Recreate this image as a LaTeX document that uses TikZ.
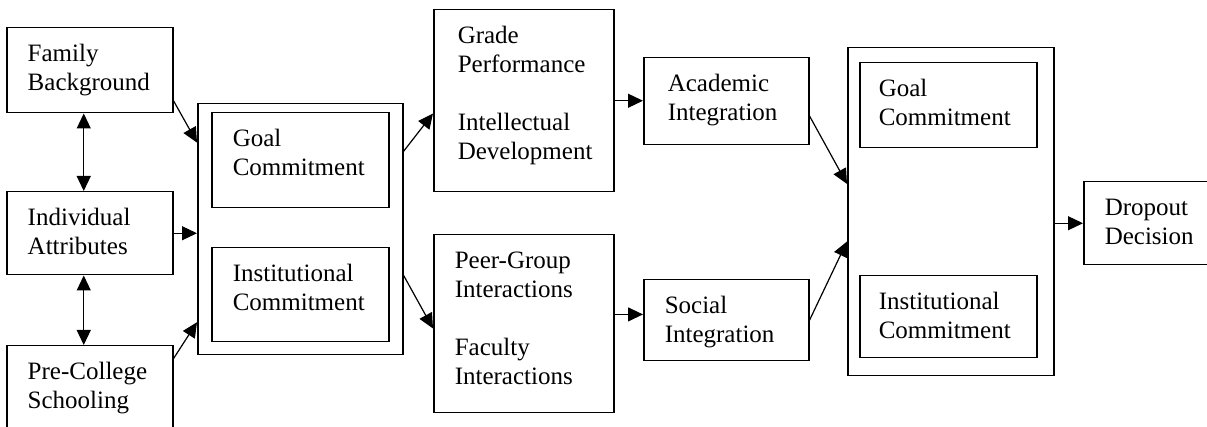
\documentclass[tikz,border=0pt]{standalone}
\usepackage{fontspec}
\setmainfont{Liberation Serif}
\usepackage{tikz}
\usetikzlibrary{arrows.meta}

\tikzset{
  box/.style={draw, line width=0.75pt, anchor=north west, align=left,
    inner xsep=10.5pt, inner ysep=0pt, text height=17pt,
    font=\fontsize{12.5pt}{14.5pt}\selectfont},
  frame/.style={draw, line width=0.75pt, anchor=north west, inner sep=0pt},
  link/.style={line width=0.6pt},
}

\begin{document}
\begin{tikzpicture}[x=0.5pt,y=-0.5pt,>={Triangle[length=7.5pt,width=7pt]}]
  \useasboundingbox (0,0) rectangle (1207,427);
  \clip (0,0) rectangle (1207,427);

  % pre-entry attributes
  \node(fam)[box,text width=62pt,text depth=25.5pt] at (6,27) {Family\\Background};
  \node(ind)[box,text width=62pt,text depth=24.5pt] at (6,191) {Individual\\Attributes};
  \node(pre)[box,text width=62pt,text depth=28pt] at (6,345) {Pre-College\\Schooling};

  % initial commitments
  \node(comL)[frame,minimum width=102.5pt,minimum height=125.5pt] at (197,103) {};
  \node(goalL)[box,text width=67.5pt,text depth=30.5pt] at (211,112) {Goal\\Commitment};
  \node(instL)[box,text width=67.5pt,text depth=30pt] at (211,247) {Institutional\\Commitment};

  % academic and social systems
  \node(grade)[box,inner xsep=12pt,text width=66pt,text depth=74pt] at (433,9)
    {Grade\\Performance\\[14.5pt]Intellectual\\Development};
  \node(peer)[box,text width=69pt,text depth=72pt] at (433,234)
    {Peer-Group\\Interactions\\[14.5pt]Faculty\\Interactions};
  \node(acad)[box,inner xsep=12pt,text width=58.5pt,text depth=26.5pt] at (643,57) {Academic\\Integration};
  \node(soc)[box,text width=61.5pt,text depth=23.5pt] at (643,279) {Social\\Integration};

  % later commitments
  \node(comR)[frame,minimum width=103pt,minimum height=164pt] at (847,47) {};
  \node(goalR)[box,inner xsep=9.5pt,text width=69.5pt,text depth=25.5pt] at (859,62) {Goal\\Commitment};
  \node(instR)[box,inner xsep=9.5pt,text width=69.5pt,text depth=24pt] at (859,275) {Institutional\\Commitment};

  \node(drop)[box,text width=44pt,text depth=24.5pt] at (1083,181) {Dropout\\Decision};

  % arrows
  \draw[link,<->] ([xshift=-3pt]fam.south) -- ([xshift=-3pt]ind.north);
  \draw[link,<->] ([xshift=-3pt]ind.south) -- ([xshift=-3pt]pre.north);
  \draw[link,->] (fam.-20) -- (comL.140);
  \draw[link,->] (ind.east) -- (ind.east -| comL.west);
  \draw[link,->] (pre.21) -- (comL.222);
  \draw[link,->] (comL.37) -- (grade.188);
  \draw[link,->] (comL.-24) -- (peer.183);
  \draw[link,->] (grade.east) -- (grade.east -| acad.west);
  \draw[link,->] (peer.east |- soc.176) -- (soc.176);
  \draw[link,->] (acad.-10) -- (comR.165);
  \draw[link,->] (soc.east) -- (comR.196);
  \draw[link,->] (comR.east |- drop.west) -- (drop.west);

\end{tikzpicture}
\end{document}
